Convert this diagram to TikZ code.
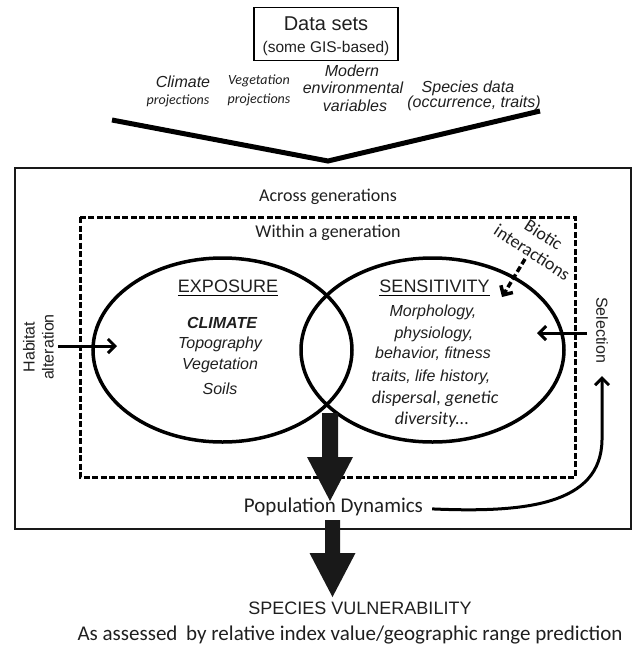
\documentclass[tikz,border=0pt]{standalone}
\usepackage{fontspec}
\setmainfont{Liberation Sans}
\newfontfamily\calfont{Carlito}
\usetikzlibrary{arrows.meta,calc}
\newcommand\fsz[1]{\fontsize{#1}{#1}\selectfont}
\begin{document}
\begin{tikzpicture}[x=1pt,y=-1pt,
  every node/.style={inner sep=0pt, text=black!88},
  lab/.style={anchor=base},
  ari/.style={lab, font=\fsz{16}\itshape},
  cali/.style={lab, font=\calfont\fsz{14}\itshape},
  calr/.style={lab, font=\calfont\fsz{18}},
  thinarrow/.style={line width=3pt, -{Straight Barb[length=7pt,width=14pt]}},
  blockfill/.style={fill=black!90}]
\useasboundingbox (0,0) rectangle (633,646);

% Data sets box
\node[draw, line width=1.1pt, minimum width=144pt, minimum height=53pt, anchor=north] (dsbox) at (326,7) {};
\node[lab, font=\fsz{20}] (ds) at (326,30) {Data sets};
\node[lab, font=\fsz{15.5}] (gis) at (326,52) {(some GIS-based)};

% data categories
\node[ari] (clim) at (183,87.5) {Climate};
\node[cali] (clim2) at (178,104.5) {projections};
\node[cali] (veg) at (259,84) {Vegetation};
\node[cali] (veg2) at (259,103.5) {projections};
\node[ari] (mod1) at (352,76) {Modern};
\node[ari] (mod2) at (353,93) {environmental};
\node[ari] (mod3) at (355,111) {variables};
\node[ari] (sp1) at (468,92.5) {Species data};
\node[ari] (sp2) at (474,107) {(occurrence, traits)};

% funnel
\coordinate (vl) at (112,120);
\coordinate (vb) at (328,161);
\coordinate (vr) at (540,111);
\draw[line width=5pt] (vl) -- (vb) -- (vr);

% outer box and dashed box
\draw[line width=2pt, draw=black!90] (15,168) rectangle (631,529);
\node[calr] (across) at (328,201.5) {Across generations};
\draw[line width=3pt, dash pattern=on 6pt off 2.5pt] (80,217) rectangle (575,477);
\node[calr] (within) at (328,237.5) {Within a generation};

% ellipses
\coordinate (ce) at (222.5,350);
\coordinate (cs) at (432.5,350);
\draw[line width=3.5pt] (ce) ellipse [x radius=129.5, y radius=92];
\draw[line width=3.5pt] (cs) ellipse [x radius=131.5, y radius=92];

% exposure
\node[lab, font=\fsz{18}] (expo) at (228,292.4) {EXPOSURE};
\draw[line width=1.3pt] ([yshift=-3pt]expo.base west) -- ([yshift=-3pt]expo.base east);
\node[lab, font=\fsz{16}\bfseries\itshape] (climc) at (222,328.5) {CLIMATE};
\node[ari] (topo) at (220,348.5) {Topography};
\node[ari] (vege) at (220,369.5) {Vegetation};
\node[ari] (soil) at (220,394) {Soils};

% sensitivity
\node[lab, font=\fsz{18}] (sens) at (434.5,292.4) {SENSITIVITY};
\draw[line width=1.3pt] ([yshift=-3pt]sens.base west) -- ([yshift=-3pt]sens.base east);
\node[ari] (s1) at (433,316) {Morphology,};
\node[ari] (s2) at (434,338) {physiology,};
\node[ari] (s3) at (433,358) {behavior, fitness};
\node[ari] (s4) at (431,381) {traits, life history,};
\node[lab, font=\calfont\fsz{18}\itshape] (s5) at (435,403) {dispersal, genetic};
\node[lab, font=\calfont\fsz{18}\itshape] (s6) at (432,424.5) {diversity...};

% habitat alteration
\node[font=\fontsize{16}{19}\selectfont, align=center, rotate=90] (hab) at (38.5,347) {Habitat\\alteration};
\coordinate (habs) at (58,346);
\coordinate (habe) at (117,346);
\draw[thinarrow] (habs) -- (habe);

% selection
\node[font=\fsz{16}, rotate=-90] (sel) at (602,330) {Selection};
\coordinate (sels) at (587,333);
\coordinate (sele) at (537,333);
\draw[thinarrow] (sels) -- (sele);

% biotic interactions
\node[font=\calfont\fontsize{18}{21}\selectfont, align=center, rotate=-33] (bio) at (538,243.5) {Biotic\\interactions};
\coordinate (bios) at (525,259);
\coordinate (bioe) at (502,297);
\draw[line width=3.5pt, dash pattern=on 6pt off 3pt, -{Straight Barb[length=7pt,width=14pt]}] (bios) -- (bioe);

% block arrow 1
\coordinate (b1s) at (330,413);
\coordinate (b1t) at (330,501);
\fill[blockfill] ($(b1s)+(-8,0)$) -- ($(b1t)+(-8,-44)$) -- ($(b1t)+(-23,-44)$) -- (b1t)
  -- ($(b1t)+(23,-44)$) -- ($(b1t)+(8,-44)$) -- ($(b1s)+(8,0)$) -- cycle;

% population dynamics
\node[lab, font=\calfont\fsz{21}] (pd) at (333.5,512) {Population Dynamics};
\coordinate (seltip) at (602,376);
\draw[thinarrow] ($(pd.east)+(9,2.5)$) .. controls (525,513) and (601,505) .. (602,440) -- (seltip);

% block arrow 2
\coordinate (b2s) at (332.5,520);
\coordinate (b2t) at (332.5,597);
\fill[blockfill] ($(b2s)+(-7.5,0)$) -- ($(b2t)+(-7.5,-44)$) -- ($(b2t)+(-23,-44)$) -- (b2t)
  -- ($(b2t)+(23,-44)$) -- ($(b2t)+(7.5,-44)$) -- ($(b2s)+(7.5,0)$) -- cycle;

% bottom texts
\node[lab, font=\fsz{18}] (vul) at (360,614.5) {SPECIES VULNERABILITY};
\node[lab, font=\calfont\fsz{21}] (assess) at (350,640) {As assessed\hspace{4pt} by relative index value/geographic range prediction};
\end{tikzpicture}
\end{document}
